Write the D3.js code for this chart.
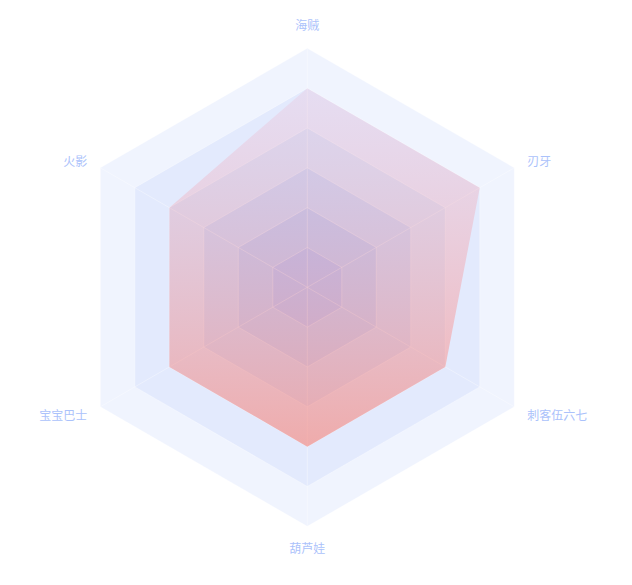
<!DOCTYPE html>
<html>
<head>
<meta charset="utf-8">
<script src="https://cdn.jsdelivr.net/npm/d3@7"></script>
<style>
  html, body { margin: 0; padding: 0; background: #ffffff; }
  svg { display: block; }
</style>
</head>
<body>
<svg id="chart" width="632" height="585"></svg>
<script>
// ---- data ----
const categories = ["海贼", "刃牙", "刺客伍六七", "葫芦娃", "宝宝巴士", "火影"];
const maxValues = [6, 6, 6, 6, 6, 6];
const seriesValues = [5, 5, 4, 4, 4, 4];
const splitNumber = 6;

// ---- layout / style ----
const W = 632, H = 585;
const cx = 307.3, cy = 287.3, R = 239;
const bandColors = ["#f0f4fe", "#e3eafd", "#d3e2fb", "#bfd5fa", "#acc7f8", "#9fbaf9"];
const labelColor = "#abc2fb";

const svg = d3.select("#chart");
const g = svg.append("g").attr("transform", `translate(${cx},${cy})`);

const n = categories.length;
const angle = d3.scaleLinear().domain([0, n]).range([0, 2 * Math.PI]);
const rScale = d3.scaleLinear().domain([0, 6]).range([0, R]);
const pt = (i, r) => [r * Math.sin(angle(i)), -r * Math.cos(angle(i))];
const line = d3.line().curve(d3.curveLinearClosed);

// split areas (outer to inner)
const levels = d3.range(splitNumber, 0, -1);
levels.forEach((lv, k) => {
  const r = rScale(lv);
  g.append("path")
    .attr("d", line(d3.range(n).map(i => pt(i, r))))
    .attr("fill", bandColors[k])
    .attr("stroke", "none");
});

// split lines
levels.forEach(lv => {
  const r = rScale(lv);
  g.append("path")
    .attr("d", line(d3.range(n).map(i => pt(i, r))))
    .attr("fill", "none")
    .attr("stroke", "rgba(255,255,255,0.35)")
    .attr("stroke-width", 1);
});

// axis lines
d3.range(n).forEach(i => {
  const p = pt(i, R);
  g.append("line")
    .attr("x1", 0).attr("y1", 0).attr("x2", p[0]).attr("y2", p[1])
    .attr("stroke", "rgba(255,255,255,0.35)")
    .attr("stroke-width", 1);
});

// gradient for data area
const defs = svg.append("defs");
const grad = defs.append("linearGradient").attr("id", "areaGrad")
  .attr("x1", 0).attr("y1", 0).attr("x2", 0).attr("y2", 1);
grad.append("stop").attr("offset", 0).attr("stop-color", "rgb(235,190,215)").attr("stop-opacity", 0.3);
grad.append("stop").attr("offset", 1).attr("stop-color", "rgb(250,150,140)").attr("stop-opacity", 0.72);

// data polygon
const dataPts = seriesValues.map((v, i) => pt(i, rScale(v * 6 / maxValues[i])));
g.append("path")
  .attr("d", line(dataPts))
  .attr("fill", "url(#areaGrad)")
  .attr("stroke", "none");

// labels
const gap = 15;
categories.forEach((name, i) => {
  const p = pt(i, R + gap);
  const s = Math.sin(angle(i)), c = -Math.cos(angle(i));
  let anchor = "middle", dy = 0;
  if (s > 0.01) anchor = "start";
  else if (s < -0.01) anchor = "end";
  else dy = c < 0 ? -8.5 : 6;
  g.append("text")
    .attr("x", p[0]).attr("y", p[1] + dy)
    .attr("text-anchor", anchor)
    .attr("dominant-baseline", "central")
    .attr("font-family", "'Noto Sans CJK SC', 'Noto Sans', sans-serif")
    .attr("font-size", 12)
    .attr("fill", labelColor)
    .text(name);
});
</script>
</body>
</html>
